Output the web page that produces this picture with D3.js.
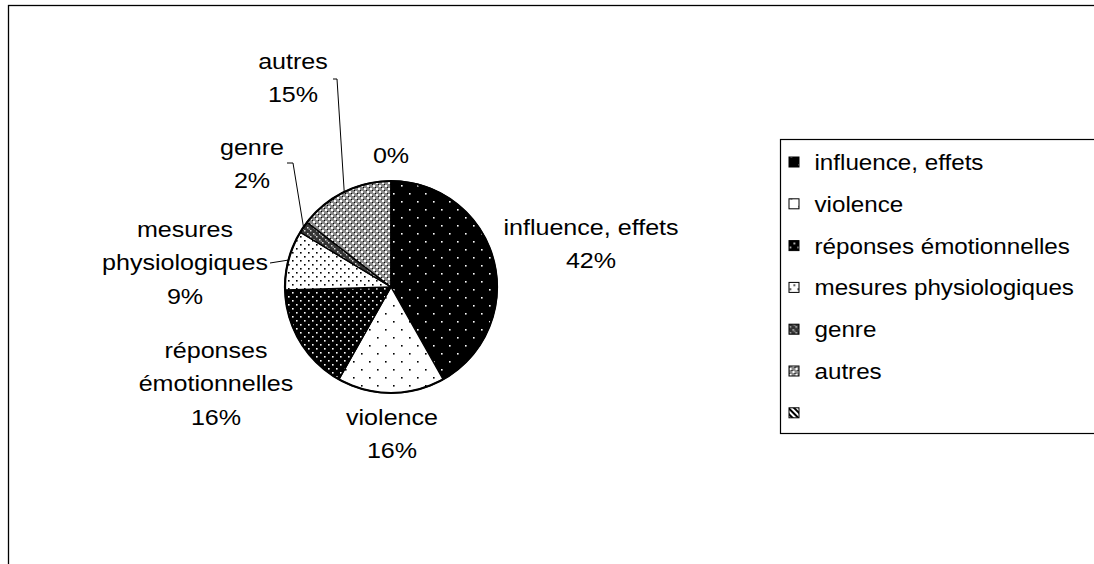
<!DOCTYPE html>
<html>
<head>
<meta charset="utf-8">
<script src="https://cdn.jsdelivr.net/npm/d3@7"></script>
<style>
  html, body { margin: 0; padding: 0; background: #fff; overflow: hidden; }
  text { font-family: "Liberation Sans", Arial, sans-serif; fill: #000; }
</style>
</head>
<body>
<div id="chart"></div>
<script>
"use strict";

// data (counts, shown as percent of total)
var categories = ["influence, effets", "violence", "réponses émotionnelles",
                  "mesures physiologiques", "genre", "autres", ""];
var counts = [23, 9, 9, 5, 1, 8, 0];
var labelLines = [["influence, effets"], ["violence"], ["réponses", "émotionnelles"],
                  ["mesures", "physiologiques"], ["genre"], ["autres"], []];
var patternIds = ["pInfl", "pViol", "pRep", "pMes", "pGenre", "pAutres", "pStripe"];

// label layout relative to pie centre (first baseline), leader start if any
var labelLayout = [
    {dx: 200, dy: -52},
    {dx: 1, dy: 138},
    {dx: -175, dy: 71},
    {dx: -206, dy: -50, leader: [-121, -24]},
    {dx: -139, dy: -132, leader: [-104, -124, -98, -124]},
    {dx: -98, dy: -218, leader: [-58, -208, -54, -208]},
    {dx: 0, dy: -124}
];

var W = 1094, H = 564;
var cx = 391, cy = 287, radius = 106;
var FONT = 22, SX = 1.14, LINE = 33.5;

var svg = d3.select("#chart").append("svg")
    .attr("width", W)
    .attr("height", H);

var defs = svg.append("defs");

function dotPattern(id, size, bg, fg, dots, r) {
    var p = defs.append("pattern")
        .attr("id", id)
        .attr("patternUnits", "userSpaceOnUse")
        .attr("width", size)
        .attr("height", size);
    p.append("rect").attr("width", size).attr("height", size).attr("fill", bg);
    dots.forEach(function(d) {
        p.append("rect").attr("x", d[0]).attr("y", d[1])
            .attr("width", r).attr("height", r).attr("fill", fg);
    });
    return p;
}

dotPattern("pInfl", 16, "#000", "#fff", [[2, 2], [10, 10]], 1.6);
dotPattern("pViol", 16, "#fff", "#000", [[2, 2], [10, 10]], 1.6);
dotPattern("pRep", 8, "#000", "#fff", [[1, 1], [5, 5]], 1.6);
dotPattern("pMes", 8, "#fff", "#000", [[1, 1], [5, 5]], 1.6);

// checker-like fills
var g1 = dotPattern("pGenre", 6, "#333", "#ddd", [[0, 0], [3, 3]], 1.5);
g1.append("rect").attr("x", 1.5).attr("y", 1.5).attr("width", 1.5).attr("height", 1.5).attr("fill", "#888");
var g2 = dotPattern("pAutres", 6, "#8a8a8a", "#fff", [[0, 0], [3, 3]], 2);
g2.append("rect").attr("x", 2).attr("y", 2).attr("width", 1).attr("height", 1).attr("fill", "#000");
g2.append("rect").attr("x", 5).attr("y", 5).attr("width", 1).attr("height", 1).attr("fill", "#000");

var st = defs.append("pattern")
    .attr("id", "pStripe")
    .attr("patternUnits", "userSpaceOnUse")
    .attr("width", 4).attr("height", 4)
    .attr("patternTransform", "rotate(-45)");
st.append("rect").attr("width", 4).attr("height", 4).attr("fill", "#fff");
st.append("rect").attr("width", 2).attr("height", 4).attr("fill", "#000");

// chart area border
svg.append("rect")
    .attr("x", 8.5).attr("y", 5.5)
    .attr("width", 1200).attr("height", 700)
    .attr("fill", "none")
    .attr("stroke", "#000")
    .attr("stroke-width", 1.3);

var total = d3.sum(counts);
var pie = d3.pie().sort(null).value(function(d) { return d; });
var arcs = pie(counts);
var arc = d3.arc().innerRadius(0).outerRadius(radius);

var gPie = svg.append("g").attr("transform", "translate(" + cx + "," + cy + ")");

gPie.selectAll("path.slice")
    .data(arcs)
    .enter()
    .append("path")
    .attr("class", "slice")
    .attr("d", arc)
    .attr("fill", function(d, i) { return "url(#" + patternIds[i] + ")"; })
    .attr("stroke", "#000")
    .attr("stroke-width", 1.4)
    .attr("stroke-linejoin", "round");

gPie.append("circle")
    .attr("r", radius)
    .attr("fill", "none")
    .attr("stroke", "#000")
    .attr("stroke-width", 2.2);

// leader lines
arcs.forEach(function(d, i) {
    var lay = labelLayout[i];
    if (!lay.leader) return;
    var mid = (d.startAngle + d.endAngle) / 2;
    var pts = [];
    for (var k = 0; k < lay.leader.length; k += 2) pts.push([lay.leader[k], lay.leader[k + 1]]);
    pts.push([Math.sin(mid) * radius, -Math.cos(mid) * radius]);
    gPie.append("path")
        .attr("d", d3.line()(pts))
        .attr("fill", "none")
        .attr("stroke", "#000")
        .attr("stroke-width", 1);
});

// data labels
arcs.forEach(function(d, i) {
    var lay = labelLayout[i];
    var pct = Math.round(d.value / total * 100) + "%";
    var lines = labelLines[i].concat([pct]);
    var g = gPie.append("g")
        .attr("transform", "translate(" + lay.dx + "," + lay.dy + ") scale(" + SX + ",1)");
    lines.forEach(function(t, j) {
        g.append("text")
            .attr("x", 0)
            .attr("y", j * LINE)
            .attr("text-anchor", "middle")
            .style("font-size", FONT + "px")
            .text(t);
    });
});

// legend
var legend = svg.append("g").attr("transform", "translate(780.5,139.5)");
legend.append("rect")
    .attr("width", 400).attr("height", 294)
    .attr("fill", "#fff")
    .attr("stroke", "#000")
    .attr("stroke-width", 1.2);

var item = legend.selectAll("g.item")
    .data(categories)
    .enter()
    .append("g")
    .attr("class", "item")
    .attr("transform", function(d, i) { return "translate(0," + (22.5 + i * 41.8) + ")"; });

item.append("rect")
    .attr("x", 8.5).attr("y", -5)
    .attr("width", 10).attr("height", 10)
    .attr("fill", function(d, i) { return "url(#" + patternIds[i] + ")"; })
    .attr("stroke", "#000")
    .attr("stroke-width", 1);

item.append("g")
    .attr("transform", "translate(34,8) scale(1.1,1)")
    .append("text")
    .style("font-size", FONT + "px")
    .text(function(d) { return d; });
</script>
</body>
</html>
